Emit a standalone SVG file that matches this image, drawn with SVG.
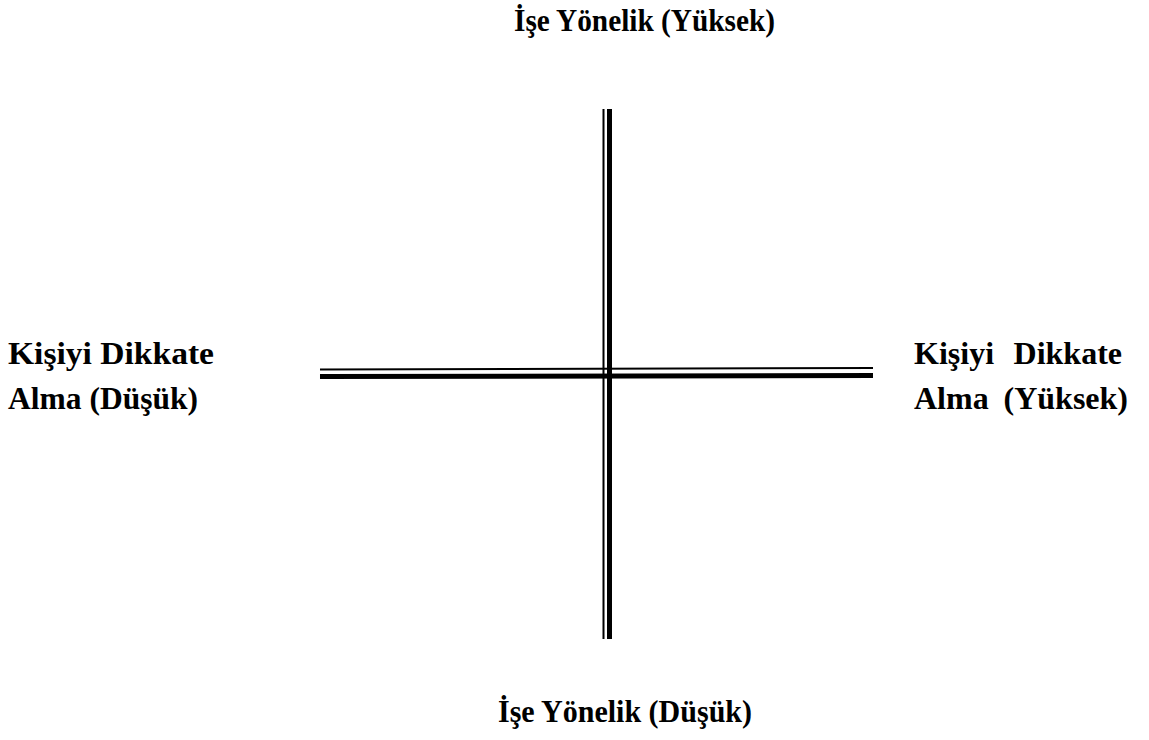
<svg xmlns="http://www.w3.org/2000/svg" width="1149" height="740" viewBox="0 0 1149 740">
<style>
.t{font-family:"Liberation Serif","Times New Roman",serif;font-weight:bold;font-size:32px;fill:#000}
.thin{stroke:#000;stroke-width:2;fill:none}
.thick{stroke:#000;stroke-width:5;fill:none}
</style>
<rect width="1149" height="740" fill="#fff"/>
<g id="connectors">
<line class="thin" x1="603.5" y1="109" x2="603.5" y2="639"/>
<line class="thick" x1="609.5" y1="109" x2="609.5" y2="639"/>
<line class="thin" x1="320" y1="369.5" x2="873" y2="368"/>
<line class="thick" x1="320" y1="376.5" x2="873" y2="375.5"/>
</g>
<g id="top"><text class="t" x="514" y="31" textLength="261" lengthAdjust="spacingAndGlyphs">İşe Yönelik (Yüksek)</text></g>
<g id="bottom"><text class="t" x="498" y="722" textLength="254" lengthAdjust="spacingAndGlyphs">İşe Yönelik (Düşük)</text></g>
<g id="left">
<text class="t" x="8" y="364" textLength="206" lengthAdjust="spacingAndGlyphs">Kişiyi Dikkate</text>
<text class="t" x="8" y="409" textLength="190" lengthAdjust="spacingAndGlyphs">Alma (Düşük)</text>
</g>
<g id="right">
<text class="t" x="914" y="364">Kişiyi</text>
<text class="t" x="1122" y="364" text-anchor="end">Dikkate</text>
<text class="t" x="914" y="409">Alma</text>
<text class="t" x="1128" y="409" text-anchor="end">(Yüksek)</text>
</g>
</svg>
